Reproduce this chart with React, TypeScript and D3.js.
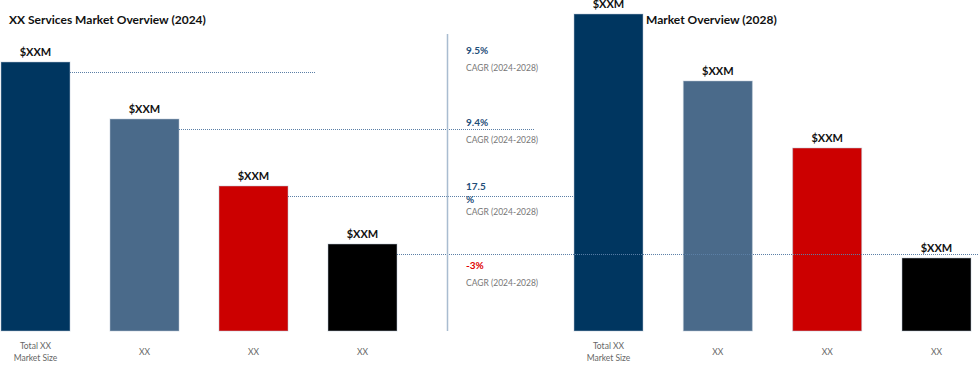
import React from "react";
import * as d3 from "d3";

const categories = ["Total XX\nMarket Size", "XX", "XX", "XX"];
const values2024 = [269, 212, 145, 87];
const values2028 = [317, 250, 183, 73];
const barLabels2024 = ["$XXM", "$XXM", "$XXM", "$XXM"];
const barLabels2028 = ["$XXM", "$XXM", "$XXM", "$XXM"];
const cagrValues = ["9.5%", "9.4%", "17.5\n%", "-3%"];
const cagrNegative = [false, false, false, true];
const cagrCaption = "CAGR (2024-2028)";
const title2024 = "XX Services Market Overview (2024)";
const title2028 = "Market Overview (2028)";
const barColors = ["#003660", "#4a6a8a", "#cc0000", "#000000"];

const W = 979;
const H = 365;
const FONT = "Lato, 'Liberation Sans', sans-serif";

export default function App() {
  const y = d3.scaleLinear().domain([0, 330]).range([331, 1]);
  const xL = d3.scalePoint<number>().domain([0, 1, 2, 3]).range([35.5, 362.5]);
  const xR = d3.scalePoint<number>().domain([0, 1, 2, 3]).range([608.5, 936.5]);
  const bw = 69;
  const lineEnds = [315, 535, 574, 979];
  const cagrX = 466;

  const renderBars = (vals: number[], labels: string[], x: d3.ScalePoint<number>, key: string) =>
    vals.map((v, i) => (
      <g key={key + i}>
        <rect
          x={x(i)! - bw / 2}
          y={y(v)}
          width={bw}
          height={y(0) - y(v)}
          fill={barColors[i]}
          stroke="#b8c6d4"
          strokeOpacity={0.5}
          strokeWidth={1}
        />
        <text
          x={x(i)!}
          y={y(v) - 6}
          textAnchor="middle"
          fontWeight="bold"
          fontSize={11}
          fill="#111"
        >
          {labels[i]}
        </text>
        {categories[i].split("\n").map((ln, j, arr) => (
          <text
            key={j}
            x={x(i)!}
            y={arr.length > 1 ? 349 + j * 12 : 355}
            textAnchor="middle"
            fontSize={8.5}
            fill="#666"
          >
            {ln}
          </text>
        ))}
      </g>
    ));

  return (
    <svg width={W} height={H} style={{ position: "absolute", left: 0, top: 0, fontFamily: FONT }}>
      <rect width={W} height={H} fill="#fff" />
      <text x={9} y={24} fontWeight="bold" fontSize={12} fill="#111">
        {title2024}
      </text>
      <text x={646} y={24} fontWeight="bold" fontSize={12} fill="#111">
        {title2028}
      </text>
      {renderBars(values2024, barLabels2024, xL, "l")}
      {renderBars(values2028, barLabels2028, xR, "r")}
      {/* reference dotted lines */}
      {values2024.map((v, i) => (
        <line
          key={"d" + i}
          x1={xL(i)! + bw / 2}
          x2={lineEnds[i]}
          y1={y(v) + 10.5}
          y2={y(v) + 10.5}
          stroke="#5b7fa6"
          strokeWidth={1}
          strokeDasharray="1,1"
        />
      ))}
      {/* vertical divider */}
      <line x1={447.5} x2={447.5} y1={34} y2={331} stroke="#a9bcd0" strokeWidth={1.5} />
      {/* CAGR labels */}
      {values2024.map((v, i) => {
        const base = [54, 126, 190, 269][i];
        const parts = cagrValues[i].split("\n");
        return (
          <g key={"c" + i}>
            {parts.map((p, j) => (
              <text
                key={j}
                x={cagrX}
                y={base + j * 13}
                fontWeight="bold"
                fontSize={10}
                fill={cagrNegative[i] ? "#e00000" : "#1f4e79"}
              >
                {p}
              </text>
            ))}
            <text x={cagrX} y={base + (parts.length > 1 ? 25 : 17)} fontSize={8.5} fill="#777">
              {cagrCaption}
            </text>
          </g>
        );
      })}
    </svg>
  );
}
